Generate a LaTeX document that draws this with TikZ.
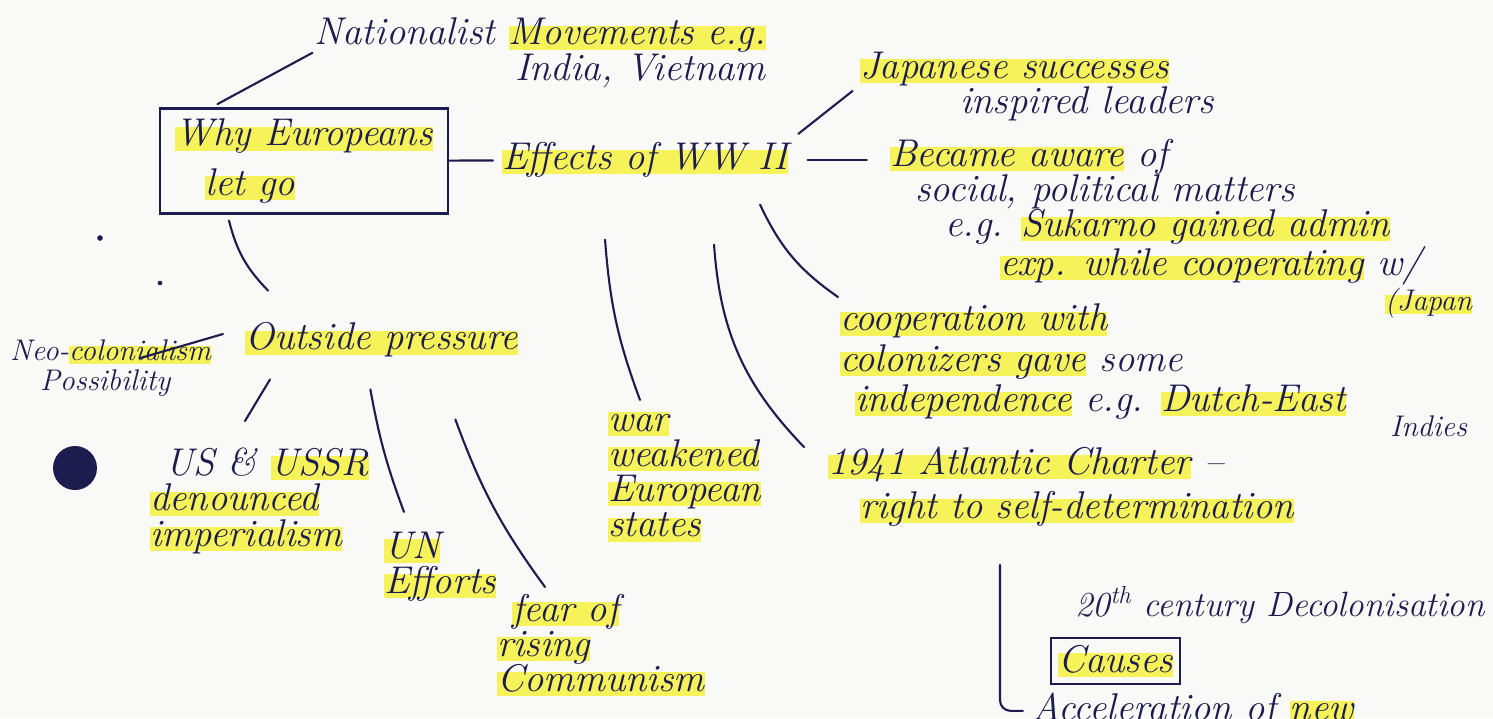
\documentclass[tikz,border=0pt]{standalone}
\usetikzlibrary{calc}
\definecolor{ink}{RGB}{28,28,78}
\definecolor{hly}{RGB}{246,242,90}
\definecolor{paper}{RGB}{249,249,247}
\newcommand{\hlt}[1]{\setbox0\hbox{#1}\rlap{\color{hly}\rule[-0.12em]{\wd0}{0.62em}}\box0\relax}
\tikzset{
txt/.style={text=ink,font=\fontsize{22}{20}\selectfont\itshape,inner sep=1pt,align=left},
link/.style={draw=ink,line width=1.2pt,line cap=round},
}
\begin{document}
\begin{tikzpicture}[x=0.02cm,y=-0.02cm]
\path[use as bounding box,fill=paper] (0,0) rectangle (1493,718);
\node[txt,align=right,anchor=north east] (nat) at (768,16) {Nationalist \hlt{Movements e.g.}\\ India, Vietnam};
\node[txt,draw=ink,line width=1.2pt,minimum width=5.76cm,minimum height=2cm,inner sep=6pt] (why) at (304,161) {\hlt{Why Europeans}\\[8pt]\hspace*{0.6cm}\hlt{let go}};
\node[txt,anchor=west] (eff) at (500,160) {\hlt{Effects of WW II}};
\node[txt,anchor=north west] (jap) at (858,50) {\hlt{Japanese successes}\\\hspace*{2cm}inspired leaders};
\node[txt,anchor=north west] (aware) at (888,137) {\hlt{Became aware} of\\\hspace*{0.5cm}social, political matters\\\hspace*{1.1cm}e.g. \hlt{Sukarno gained admin}\\\hspace*{2.2cm}\hlt{exp. while cooperating} w/\\\hspace*{9.9cm}{\fontsize{17}{20}\selectfont\hlt{(Japan}}};
\node[txt,anchor=north west] (coop) at (838,302) {\hlt{cooperation with}\\[3pt]\hlt{colonizers gave} some\\[3pt]\hspace*{0.3cm}\hlt{independence} e.g. \hlt{Dutch-East}\\[-6pt]\hspace*{11cm}{\fontsize{17}{20}\selectfont Indies}};
\node[txt,anchor=north west] (atl) at (826,445) {\hlt{1941 Atlantic Charter} --\\[5pt]\hspace*{0.64cm}\hlt{right to self-determination}};
\node[txt,anchor=north west] (war) at (606,410) {\hlt{war}\\\hlt{weakened}\\\hlt{European}\\\hlt{states}};
\node[txt,anchor=west] (out) at (243,340) {\hlt{Outside pressure}};
\node[txt,anchor=north west,font=\fontsize{17}{17}\selectfont\itshape] (neo) at (8,338) {Neo-\hlt{colonialism}\\\hspace*{0.6cm}Possibility};
\node[txt,anchor=north west] (us) at (148,446) {\hspace*{0.3cm}US \& \hlt{USSR}\\\hlt{denounced}\\\hlt{imperialism}};
\node[txt,anchor=north west] (un) at (382,530) {\hlt{UN}\\\hlt{Efforts}};
\node[txt,anchor=north west] (fear) at (495,592) {\hspace*{0.3cm}\hlt{fear of}\\\hlt{rising}\\\hlt{Communism}};
\node[txt,anchor=west,font=\fontsize{20}{20}\selectfont\itshape] (decol) at (1073,605) {20\textsuperscript{th} century Decolonisation};
\node[txt,draw=ink,line width=1.2pt,anchor=west,inner sep=4pt] (causes) at (1050,661) {\hlt{Causes}};
\node[txt,anchor=north west] (accel) at (1030,691) {Acceleration of \hlt{new}};
\coordinate (vtop) at (1000,565);
\draw[link,shorten <=4pt] (why.150) -- (nat.west);
\draw[link,shorten >=4pt] (why) -- (eff);
\draw[link,shorten <=6pt,shorten >=4pt] (eff.north east) -- (jap.west);
\draw[link,shorten <=10pt,shorten >=12pt] (eff.east) -- (eff.east -| aware.west);
\draw[link] ($(eff.south east)+(-30,25)$) to[bend right=15] ($(coop.north west)+(0,-5)$);
\draw[link] ($(eff.south)+(69,65)$) to[bend right=20] ($(atl.north west)+(-22,2)$);
\draw[link] ($(eff.south)+(-40,60)$) to[bend right=8] ($(war.north west)+(34,-10)$);
\draw[link] ($(why.south west)+(70,6)$) to[bend right=15] ($(out.north west)+(25,-30)$);
\draw[link] ($(out.west)+(-20,-6)$) -- ($(neo.north)+(30,20)$);
\draw[link] ($(out.south west)+(27,20)$) -- ($(us.north west)+(97,-25)$);
\draw[link] ($(out.south)+(-11,30)$) to[bend right=5] ($(un.north west)+(22,-18)$);
\draw[link] ($(out.south)+(74,60)$) to[bend right=8] ($(fear.north west)+(50,-5)$);
\draw[link,rounded corners=6pt,shorten >=4pt] (vtop) |- (accel.west);
\fill[ink] (75,468) circle (0.44cm);
\fill[ink] (100,238) circle (1.6pt) (160,283) circle (1.3pt);
\end{tikzpicture}
\end{document}
